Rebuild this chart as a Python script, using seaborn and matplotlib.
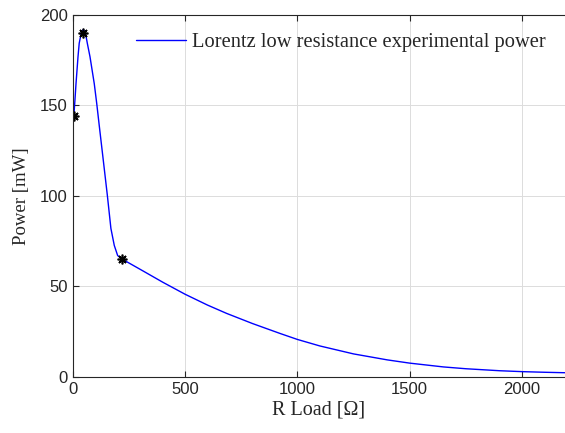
import numpy as np
import pandas as pd
import matplotlib
matplotlib.use("Agg")
import matplotlib.pyplot as plt
import seaborn as sns

# curve
r_load = [5, 10, 14.7, 23.6, 29, 38, 47, 56, 65, 77, 96, 107, 118, 133, 154,
          170, 185, 200, 220, 260, 314, 400, 500, 600, 685, 800, 923, 1000,
          1100, 1250, 1400, 1500, 1650, 1750, 1900, 2000, 2100, 2190]
power = [144, 153, 162, 176.9, 184.4, 190, 192, 190.5, 184.4, 176.9, 162, 151,
         139, 123, 100.5, 82, 72.6, 67, 65, 62.2, 58.4, 52.3, 45.6, 39.6, 35,
         29.4, 23.9, 20.6, 17.0, 12.6, 9.3, 7.5, 5.4, 4.4, 3.3, 2.8, 2.45, 2.2]

# measured points (markers)
r_meas = [5, 47, 220]
p_meas = [144, 190, 65]

x_ticks = [0, 500, 1000, 1500, 2000]
y_ticks = [0, 50, 100, 150, 200]

curve = pd.DataFrame({"R": r_load, "P": power})
meas = pd.DataFrame({"R": r_meas, "P": p_meas})

sns.set_style("white")
plt.rcParams["font.family"] = ["Liberation Sans", "DejaVu Sans"]

fig = plt.figure(figsize=(5.65, 4.33), dpi=100)
ax = fig.add_axes([72.7 / 565, 56.3 / 433, 1 - 72.7 / 565, (376.7 - 15) / 433])

sns.lineplot(data=curve, x="R", y="P", ax=ax, color="#0000ff", lw=1.0,
             sort=False, label="Lorentz low resistance experimental power")
sns.lineplot(data=meas, x="R", y="P", ax=ax, color="black", marker=(8, 2, 0),
             markersize=7, markeredgewidth=1.2, markeredgecolor="black",
             markerfacecolor="black", linestyle="none", sort=False,
             legend=False)

ax.set_xlim(0, (565 - 72.7) / 0.2247)
ax.set_ylim(0, 200)
ax.set_xticks(x_ticks)
ax.set_yticks(y_ticks)
ax.grid(True, color="#dcdcdc", lw=0.7)
ax.set_axisbelow(True)

for s in ["left", "bottom", "top"]:
    ax.spines[s].set_color("#262626")
    ax.spines[s].set_linewidth(0.8)
ax.spines["right"].set_visible(False)

ax.tick_params(direction="in", length=4, width=0.8, color="#262626",
               labelsize=12, labelcolor="#262626", top=True, bottom=True, left=True)

serif = ["Liberation Serif", "DejaVu Serif"]
ax.set_xlabel("R Load [Ω]", family=serif, fontsize=14.5, color="#262626", labelpad=3)
ax.set_ylabel("Power [mW]", family=serif, fontsize=13.5, color="#262626", labelpad=7)

handles, labels = ax.get_legend_handles_labels()
leg = ax.legend(handles[:1], labels[:1], loc="upper right", frameon=False,
                prop={"family": serif, "size": 14.8}, handlelength=2.4,
                handletextpad=0.3, borderaxespad=0.3, bbox_to_anchor=(0.99, 0.99))

fig.savefig("out.png", dpi=100)
